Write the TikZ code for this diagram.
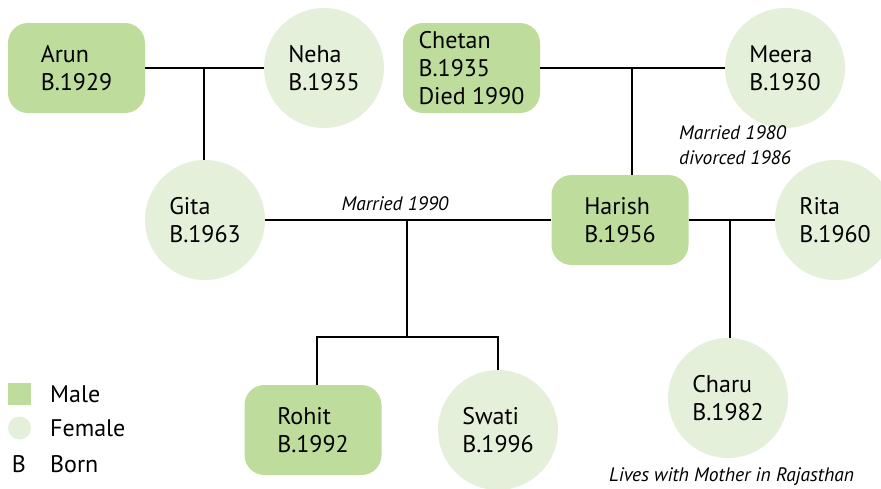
\documentclass[tikz,border=0pt]{standalone}
\usepackage{fontspec}
\setmainfont{PT Sans}
\definecolor{malegreen}{RGB}{190,221,157}
\definecolor{femalegreen}{RGB}{228,240,217}
\tikzset{
	person/.style={inner sep=0pt, align=left, font=\fontsize{24}{28}\selectfont},
	male/.style={person, fill=malegreen, rounded corners=20pt, minimum width=137pt, minimum height=90pt},
	female/.style={person, fill=femalegreen, circle, minimum size=120pt},
	note/.style={font=\fontsize{19.5}{25}\selectfont\itshape, align=left, inner sep=0pt},
	link/.style={black, line width=1.2pt},
}
\begin{document}
\begin{tikzpicture}[x=1pt,y=-1pt]
	\useasboundingbox (0,0) rectangle (881,488);

	% first generation
	\node[male] (arun) at (76.5,68) {Arun\\B.1929};
	\node[female] (neha) at (324,68) {Neha\\B.1935};
	\node[male] (chetan) at (471.5,68) {Chetan\\B.1935\\Died 1990};
	\node[female] (meera) at (785,68) {Meera\\B.1930};

	% second generation
	\node[female] (gita) at (205,220) {Gita\\B.1963};
	\node[male] (harish) at (620,220) {Harish\\B.1956};
	\node[female] (rita) at (835,220) {Rita\\B.1960};

	% third generation
	\node[male] (rohit) at (313,430) {Rohit\\B.1992};
	\node[female] (swati) at (498,430) {Swati\\B.1996};
	\node[female] (charu) at (728,398) {Charu\\B.1982};

	% marriages
	\draw[link] (arun.east) -- (neha.west);
	\draw[link] (chetan.east) -- (meera.west);
	\draw[link] (gita.east) -- (harish.west);
	\draw[link] (harish.east) -- (rita.west);

	% children
	\coordinate (an) at (204,68);
	\coordinate (cm) at (632,68);
	\coordinate (gh) at (407,220);
	\coordinate (kids) at (407,337);
	\coordinate (rl) at (317,337);
	\coordinate (hr) at (730,220);
	\draw[link] (an) -- (an |- gita.north);
	\draw[link] (cm) -- (cm |- harish.north);
	\draw[link] (gh) -- (kids);
	\draw[link] (rl |- rohit.north) -- (rl) -- (rl -| swati.north) -- (swati.north);
	\draw[link] (hr) -- (hr |- charu.north);

	% notes
	\node[note, anchor=south] (m1990) at (395,211) {Married 1990};
	\node[note, anchor=west] (m1980) at (679,145) {Married 1980\\divorced 1986};
	\node[note, anchor=west] (lives) at (609,477) {Lives with Mother in Rajasthan};

	% key
	\node[fill=malegreen, minimum width=23pt, minimum height=22pt, inner sep=0pt] (keym) at (19.5,394) {};
	\node[fill=femalegreen, circle, minimum size=23pt, inner sep=0pt] (keyf) at (19.5,428) {};
	\node[person] (keyb) at (19,464) {B};
	\node[person, anchor=west] at (50,394) {Male};
	\node[person, anchor=west] at (50,428) {Female};
	\node[person, anchor=west] at (50,464) {Born};
\end{tikzpicture}
\end{document}
